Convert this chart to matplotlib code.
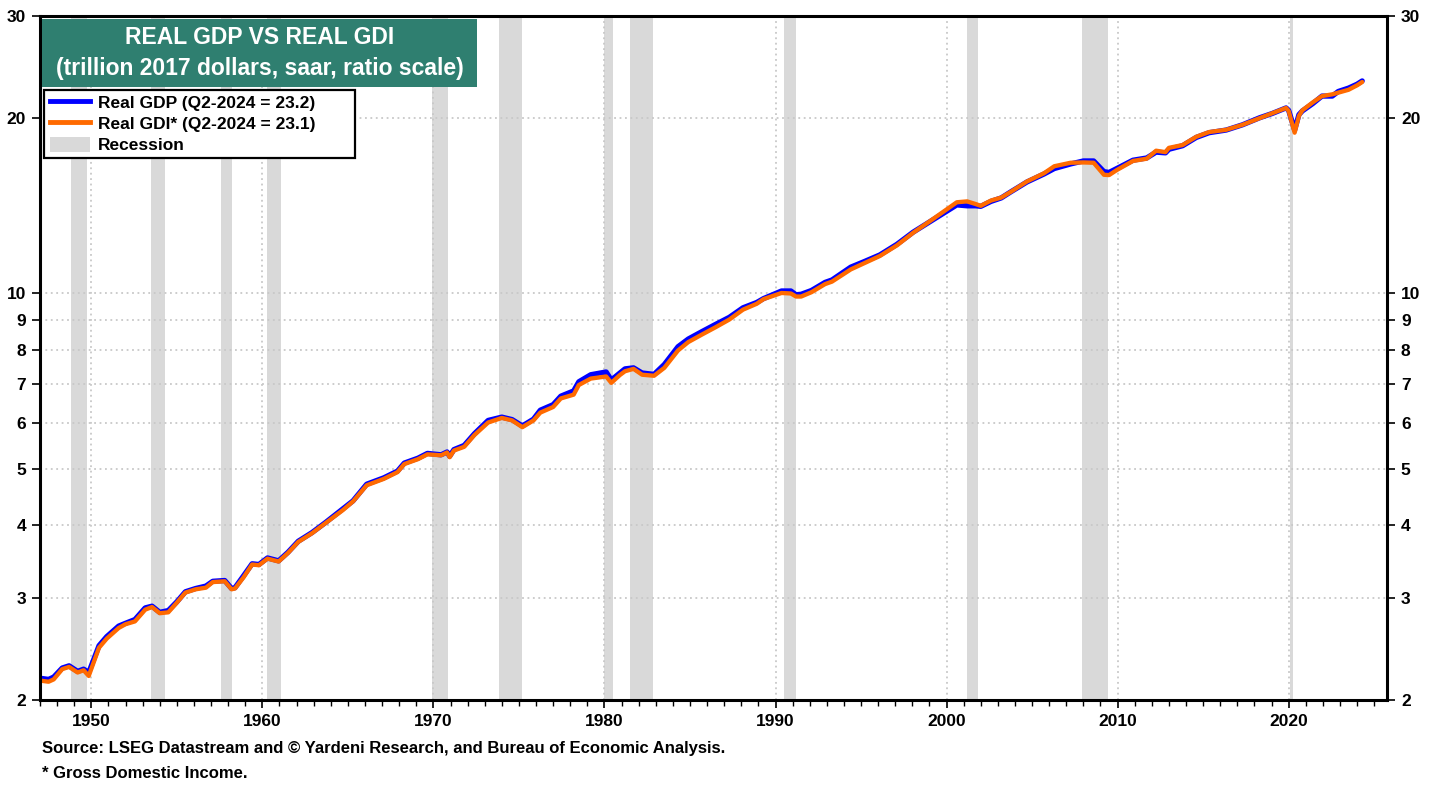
import numpy as np
import matplotlib
matplotlib.use("Agg")
import matplotlib.pyplot as plt
from matplotlib.patches import Rectangle, Patch
from matplotlib.lines import Line2D
from matplotlib.ticker import FixedLocator, NullLocator, MultipleLocator

plt.rcParams["font.family"] = ["Liberation Sans", "DejaVu Sans"]
plt.rcParams["font.weight"] = "bold"

# ─────────────────────────────────────────
# DATA (trillion 2017 $)
# ─────────────────────────────────────────
years = [1947.0, 1947.5, 1947.8, 1948.3, 1948.7, 1949.2, 1949.55, 1949.85, 1950.45, 1950.9,
         1951.6, 1952.0, 1952.55, 1953.15, 1953.55, 1954.0, 1954.5, 1955.0, 1955.5, 1956.1,
         1956.7, 1957.1, 1957.8, 1958.2, 1958.4, 1958.9, 1959.4, 1959.8, 1960.3, 1960.95,
         1961.5, 1962.1, 1962.9, 1963.7, 1964.7, 1965.3, 1966.1, 1967.1, 1967.9, 1968.3,
         1969.1, 1969.65, 1970.45, 1970.8, 1970.95, 1971.2, 1971.8, 1972.4, 1973.2, 1974.0,
         1974.6, 1975.2, 1975.85, 1976.25, 1977.0, 1977.45, 1978.2, 1978.5, 1979.2, 1980.1,
         1980.4, 1980.9, 1981.2, 1981.7, 1982.2, 1982.9, 1983.5, 1984.3, 1984.9, 1985.7,
         1986.5, 1987.3, 1988.1, 1988.9, 1989.3, 1990.35, 1990.9, 1991.2, 1991.5, 1992.1,
         1992.9, 1993.3, 1994.4, 1995.2, 1996.1, 1997.1, 1998.05, 1999.05, 2000.0, 2000.6,
         2001.2, 2001.7, 2002.0, 2002.6, 2003.2, 2003.75, 2004.7, 2005.7, 2006.3, 2007.25,
         2008.0, 2008.6, 2009.2, 2009.5, 2009.95, 2010.9, 2011.7, 2012.25, 2012.8, 2013.0,
         2013.8, 2014.6, 2015.35, 2016.35, 2017.3, 2018.3, 2019.05, 2019.85, 2020.0, 2020.35,
         2020.6, 2020.8, 2021.4, 2021.95, 2022.55, 2022.9, 2023.5, 2024.0, 2024.3]

real_gdp = [2.18, 2.17, 2.19, 2.27, 2.29, 2.24, 2.26, 2.23, 2.48, 2.57,
            2.68, 2.71, 2.75, 2.88, 2.90, 2.83, 2.85, 2.95, 3.07, 3.11,
            3.14, 3.20, 3.21, 3.11, 3.12, 3.27, 3.43, 3.42, 3.51, 3.47,
            3.59, 3.75, 3.88, 4.04, 4.26, 4.40, 4.70, 4.82, 4.95, 5.11,
            5.21, 5.31, 5.28, 5.34, 5.25, 5.39, 5.48, 5.74, 6.05, 6.13,
            6.07, 5.92, 6.08, 6.30, 6.44, 6.66, 6.80, 7.05, 7.25, 7.33,
            7.10, 7.30, 7.42, 7.45, 7.30, 7.26, 7.55, 8.10, 8.35, 8.60,
            8.85, 9.10, 9.45, 9.65, 9.80, 10.10, 10.10, 9.95, 9.97, 10.12,
            10.45, 10.55, 11.10, 11.35, 11.65, 12.15, 12.75, 13.30, 13.85, 14.20,
            14.15, 14.15, 14.12, 14.40, 14.60, 14.95, 15.55, 16.05, 16.40, 16.70,
            16.90, 16.90, 16.20, 16.15, 16.40, 16.95, 17.10, 17.50, 17.45, 17.70,
            17.95, 18.55, 18.90, 19.10, 19.50, 20.05, 20.40, 20.85, 20.65, 19.10,
            20.30, 20.60, 21.20, 21.85, 21.85, 22.25, 22.55, 22.90, 23.20]

real_gdi = [2.16, 2.15, 2.17, 2.26, 2.28, 2.23, 2.25, 2.20, 2.46, 2.55,
            2.66, 2.70, 2.73, 2.86, 2.89, 2.82, 2.83, 2.94, 3.06, 3.10,
            3.12, 3.19, 3.20, 3.10, 3.11, 3.25, 3.42, 3.41, 3.50, 3.46,
            3.58, 3.74, 3.87, 4.03, 4.24, 4.39, 4.68, 4.80, 4.93, 5.09,
            5.19, 5.29, 5.27, 5.33, 5.23, 5.37, 5.45, 5.71, 6.00, 6.11,
            6.05, 5.89, 6.05, 6.24, 6.38, 6.60, 6.70, 6.96, 7.14, 7.20,
            7.02, 7.24, 7.35, 7.42, 7.25, 7.22, 7.45, 7.98, 8.25, 8.50,
            8.75, 9.02, 9.38, 9.60, 9.78, 10.02, 10.00, 9.88, 9.88, 10.05,
            10.38, 10.48, 11.00, 11.28, 11.60, 12.10, 12.72, 13.33, 13.95, 14.35,
            14.40, 14.25, 14.15, 14.45, 14.62, 14.95, 15.58, 16.10, 16.55, 16.78,
            16.80, 16.78, 16.00, 15.98, 16.30, 16.90, 17.05, 17.60, 17.50, 17.80,
            18.00, 18.60, 18.95, 19.12, 19.50, 20.02, 20.42, 20.85, 20.60, 18.90,
            20.20, 20.65, 21.30, 21.85, 22.00, 22.15, 22.40, 22.80, 23.10]

# NBER recessions (start, end) as fractional years
recession_start = [1948.83, 1953.5, 1957.58, 1960.25, 1969.92, 1973.83, 1980.0, 1981.5,
                   1990.5, 2001.17, 2007.92, 2020.08]
recession_end = [1949.75, 1954.33, 1958.25, 1961.08, 1970.83, 1975.17, 1980.5, 1982.83,
                 1991.17, 2001.83, 2009.42, 2020.25]

y_ticks = [2, 3, 4, 5, 6, 7, 8, 9, 10, 20, 30]
x_ticks = [1950, 1960, 1970, 1980, 1990, 2000, 2010, 2020]

BLUE = "#0000FF"
ORANGE = "#FF6A00"
GRAY = "#D9D9D9"
TEAL = "#2F7F70"

# ─────────────────────────────────────────
# PLOT
# ─────────────────────────────────────────
fig = plt.figure(figsize=(14.39, 7.87), dpi=100)
ax = fig.add_axes([40 / 1439, 1 - 700 / 787, (1387 - 40) / 1439, (700 - 16) / 787])

for s, e in zip(recession_start, recession_end):
    ax.axvspan(s, e, color=GRAY, lw=0, zorder=1)

ax.plot(years, real_gdp, color=BLUE, lw=3.8, solid_joinstyle="round",
        solid_capstyle="round", zorder=3)
ax.plot(years, real_gdi, color=ORANGE, lw=3.1, solid_joinstyle="round",
        solid_capstyle="round", zorder=4)

ax.set_yscale("log")
ax.set_ylim(2, 30)
ax.set_xlim(1947, 2025.75)
ax.yaxis.set_major_locator(FixedLocator(y_ticks))
ax.yaxis.set_minor_locator(NullLocator())
ax.set_yticklabels([str(v) for v in y_ticks])
ax.xaxis.set_major_locator(FixedLocator(x_ticks))
ax.xaxis.set_minor_locator(MultipleLocator(1))

ax.grid(True, which="major", color="#C8C8C8", lw=1.3, linestyle=(0, (1, 2)), zorder=2)
ax.set_axisbelow(False)
for gl in ax.get_xgridlines() + ax.get_ygridlines():
    gl.set_zorder(2)

for sp in ax.spines.values():
    sp.set_linewidth(2.2)
    sp.set_zorder(6)

ax.tick_params(axis="both", which="major", direction="out", length=6, width=1.2,
               labelsize=12.5, pad=4)
ax.tick_params(axis="x", which="minor", direction="out", length=4, width=1.0)
ax.tick_params(axis="y", left=True, right=True, labelleft=True, labelright=True)
for lbl in ax.get_xticklabels() + ax.get_yticklabels():
    lbl.set_fontweight("bold")

# Title box
ax.add_patch(Rectangle((42 / 1439, 1 - 87 / 787), 435 / 1439, 68 / 787,
                       transform=fig.transFigure, facecolor=TEAL, edgecolor="none",
                       clip_on=False, zorder=10))
fig.text(259.5 / 1439, 1 - 38 / 787, "REAL GDP VS REAL GDI", color="white",
         fontsize=16.5, fontweight="bold", ha="center", va="center", zorder=11)
fig.text(259.5 / 1439, 1 - 69 / 787, "(trillion 2017 dollars, saar, ratio scale)",
         color="white", fontsize=16.5, fontweight="bold", ha="center", va="center", zorder=11)

# Legend box (frame drawn by hand, it is wider than the entries)
ax.add_patch(Rectangle((44 / 1439, 1 - 158 / 787), 311 / 1439, 68 / 787,
                       transform=fig.transFigure, facecolor="white", edgecolor="black",
                       lw=1.6, clip_on=False, zorder=11))
handles = [Line2D([], [], color=BLUE, lw=3.5),
           Line2D([], [], color=ORANGE, lw=3.5),
           Patch(facecolor=GRAY, edgecolor="none")]
labels = ["Real GDP (Q2-2024 = 23.2)", "Real GDI* (Q2-2024 = 23.1)", "Recession"]
leg = ax.legend(handles, labels, loc="upper left",
                bbox_to_anchor=(47 / 1439, 1 - 91 / 787), bbox_transform=fig.transFigure,
                borderaxespad=0, frameon=False,
                prop={"weight": "bold", "size": 12.5},
                handlelength=2.3, handletextpad=0.45, labelspacing=0.3,
                borderpad=0.2, handleheight=0.9)
leg.set_zorder(12)

# Source notes
fig.text(42 / 1439, 1 - 749 / 787,
         "Source: LSEG Datastream and \u00a9 Yardeni Research, and Bureau of Economic Analysis.",
         fontsize=12, fontweight="bold", ha="left", va="center")
fig.text(42 / 1439, 1 - 774 / 787, "* Gross Domestic Income.",
         fontsize=12, fontweight="bold", ha="left", va="center")

fig.savefig("out.png", dpi=100)
